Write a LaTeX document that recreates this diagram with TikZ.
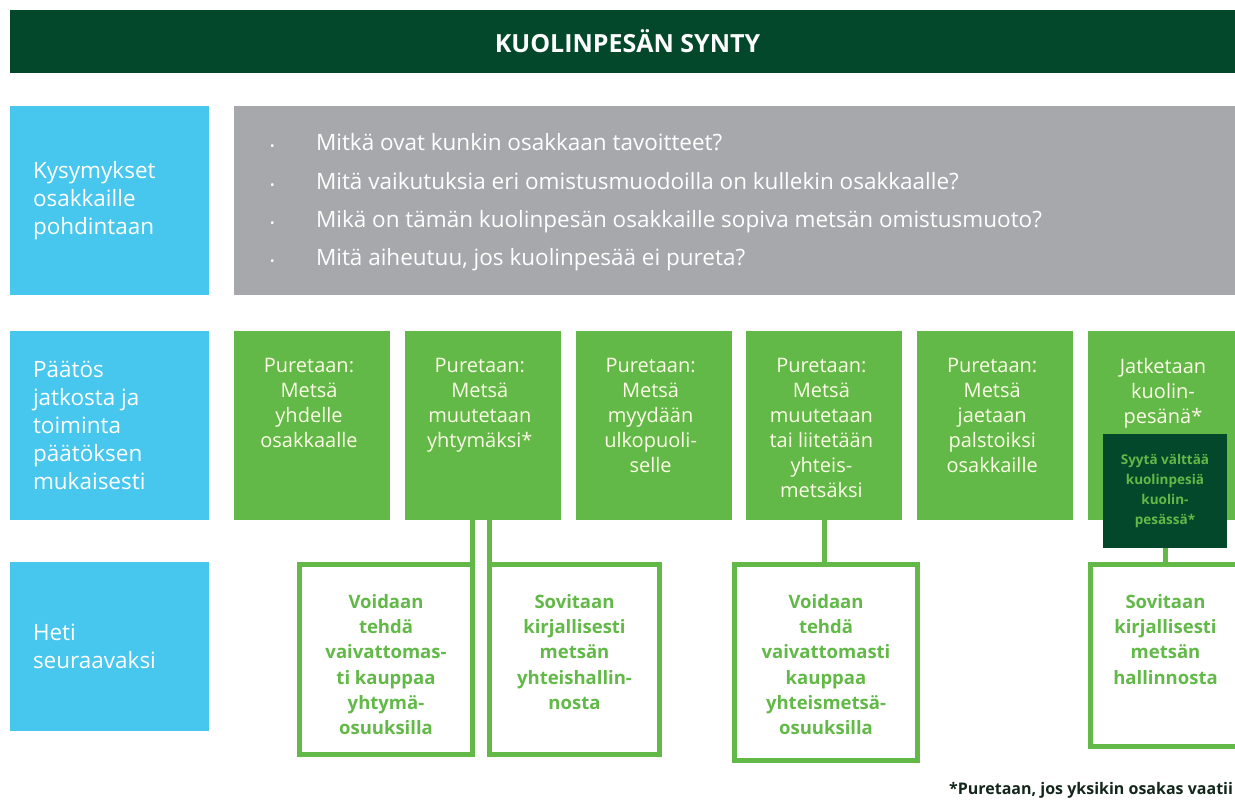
\documentclass[tikz,border=0pt]{standalone}
\usepackage{fontspec}
\setmainfont{Open Sans}
\usetikzlibrary{positioning}
\definecolor{darkgreen}{HTML}{04482B}
\definecolor{leafgreen}{HTML}{62B948}
\definecolor{skyblue}{HTML}{47C7EE}
\definecolor{stonegray}{HTML}{A7A8AB}
\definecolor{creamtext}{HTML}{FBFBE6}
\definecolor{notegreen}{HTML}{13261C}
\begin{document}
\begin{tikzpicture}[x=1pt,y=-1pt,
    every node/.style={inner sep=0pt,outer sep=0pt},
    band/.style={fill=darkgreen,anchor=north west,minimum width=1235pt,minimum height=63pt,
      text=white,font=\bfseries\fontsize{25}{28}\selectfont},
    rowhead/.style={fill=skyblue,anchor=north west,minimum width=199pt},
    headtext/.style={text=white,align=left,font=\fontsize{22.5}{28}\selectfont},
    choice/.style={fill=leafgreen,minimum width=156pt,minimum height=189pt},
    choicetext/.style={text=creamtext,align=center,xshift=-3pt,font=\fontsize{20}{25}\selectfont},
    result/.style={draw=leafgreen,line width=5pt,fill=white,anchor=north west},
    resulttext/.style={text=leafgreen,align=center,font=\bfseries\fontsize{18.5}{25.2}\selectfont},
    link/.style={draw=leafgreen,line width=5pt}]
  \useasboundingbox (0,0) rectangle (1235,800);
  \node[band] (title) at (10,10) {KUOLINPESÄN SYNTY};

  \node[rowhead,minimum height=189pt] (ask) at (10,106) {};
  \node[rowhead,minimum height=189pt] (decide) at (10,331) {};
  \node[rowhead,minimum height=169pt] (next) at (10,562) {};
  \node[headtext,right=23pt of ask.west] {Kysymykset\\osakkaille\\pohdintaan};
  \node[headtext,right=23pt of decide.west] {Päätös\\jatkosta ja\\toiminta\\päätöksen\\mukaisesti};
  \node[headtext,right=23pt of next.west] {Heti\\seuraavaksi};

  \node[fill=stonegray,anchor=north west,minimum width=1010pt,minimum height=189pt] (ideas) at (234,106) {};
  \node[anchor=west,text=white,align=left,font=\fontsize{22.5}{38.3}\selectfont] (qs) at (270,202.5)
    {\makebox[46pt][l]{\fontsize{12}{12}\selectfont\textbullet}Mitkä ovat kunkin osakkaan tavoitteet?\\
     \makebox[46pt][l]{\fontsize{12}{12}\selectfont\textbullet}Mitä vaikutuksia eri omistusmuodoilla on kullekin osakkaalle?\\
     \makebox[46pt][l]{\fontsize{12}{12}\selectfont\textbullet}Mikä on tämän kuolinpesän osakkaille sopiva metsän omistusmuoto?\\
     \makebox[46pt][l]{\fontsize{12}{12}\selectfont\textbullet}Mitä aiheutuu, jos kuolinpesää ei pureta?};

  \node[choice,anchor=north west] (ch1) at (234,331) {};
  \node[choice,right=14.8pt of ch1] (ch2) {};
  \node[choice,right=14.8pt of ch2] (ch3) {};
  \node[choice,right=14.8pt of ch3] (ch4) {};
  \node[choice,right=14.8pt of ch4] (ch5) {};
  \node[choice,right=14.8pt of ch5] (ch6) {};
  \node[choicetext,below=27pt of ch1.north] {Puretaan:\\Metsä\\yhdelle\\osakkaalle};
  \node[choicetext,below=27pt of ch2.north] {Puretaan:\\Metsä\\muutetaan\\yhtymäksi*};
  \node[choicetext,below=27pt of ch3.north] {Puretaan:\\Metsä\\myydään\\ulkopuoli-\\selle};
  \node[choicetext,below=27pt of ch4.north] {Puretaan:\\Metsä\\muutetaan\\tai liitetään\\yhteis-\\metsäksi};
  \node[choicetext,below=27pt of ch5.north] {Puretaan:\\Metsä\\jaetaan\\palstoiksi\\osakkaille};
  \node[choicetext,below=27pt of ch6.north] {Jatketaan\\kuolin-\\pesänä*};

  \node[fill=darkgreen,minimum width=124pt,minimum height=114pt,text=leafgreen,align=center,
    font=\bfseries\fontsize{13.5}{20}\selectfont] (shun) at (1165,491)
    {Syytä välttää\\kuolinpesiä\\kuolin-\\pesässä*};

  \node[result,minimum width=173pt,minimum height=190pt] (resA) at (299.5,564.5) {};
  \node[result,minimum width=170pt,minimum height=190pt] (resB) at (489.5,564.5) {};
  \node[result,minimum width=183pt,minimum height=196pt] (resC) at (734.5,564.5) {};
  \node[result,minimum width=170pt,minimum height=182pt] (resD) at (1090.5,564.5) {};
  \node[resulttext,below=30pt of resA.north] {Voidaan\\tehdä\\vaivattomas-\\ti kauppaa\\yhtymä-\\osuuksilla};
  \node[resulttext,below=30pt of resB.north] {Sovitaan\\kirjallisesti\\metsän\\yhteishallin-\\nosta};
  \node[resulttext,below=30pt of resC.north] {Voidaan\\tehdä\\vaivattomasti\\kauppaa\\yhteismetsä-\\osuuksilla};
  \node[resulttext,below=30pt of resD.north,xshift=-10pt] {Sovitaan\\kirjallisesti\\metsän\\hallinnosta};

  \begin{scope}[link]
    \draw (resA.north east) -- (resA.north east |- ch2.south);
    \draw (resB.north west) -- (resB.north west |- ch2.south);
    \draw (ch4.south) -- (ch4.south |- resC.north);
    \draw (shun.south) -- (shun.south |- resD.north);
  \end{scope}

  \node[anchor=east,text=notegreen,font=\bfseries\fontsize{16}{18}\selectfont] (note) at (1233,790)
    {*Puretaan, jos yksikin osakas vaatii};
\end{tikzpicture}
\end{document}
